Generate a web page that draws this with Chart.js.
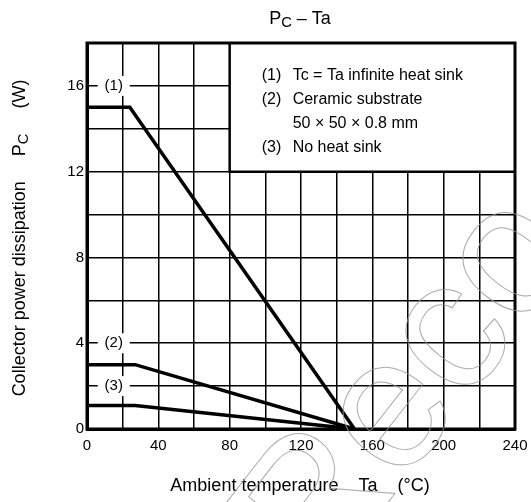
<!DOCTYPE html>
<html>
<head>
<meta charset="utf-8">
<script src="https://cdn.jsdelivr.net/npm/chart.js@4.4.0/dist/chart.umd.min.js"></script>
<style>
  html, body { margin: 0; padding: 0; background: #fff; }
  #wrap { width: 531px; height: 502px; }
</style>
</head>
<body>
<div id="wrap"><canvas id="grafico"></canvas></div>
<script>
// Curvas de disipación (Ta en °C, Pc en W)
const curva1Ta = [0, 24, 150];
const curva1Pc = [15, 15, 0];
const curva2Ta = [0, 27, 150];
const curva2Pc = [3, 3, 0];
const curva3Ta = [0, 27, 150];
const curva3Pc = [1.1, 1.1, 0];

// Etiquetas sobre la grilla y leyenda
const etiquetasCurvas = ['(1)', '(2)', '(3)'];
const etiquetasY = [16, 4, 2];
const leyenda = [
  ['(1)', 'Tc = Ta infinite heat sink'],
  ['(2)', 'Ceramic substrate'],
  ['', '50 × 50 × 0.8 mm'],
  ['(3)', 'No heat sink']
];

const fuente = '"Liberation Sans", Arial, sans-serif';

function puntos(xs, ys) {
  return xs.map((x, i) => ({ x: x, y: ys[i] }));
}

// Texto con subíndice (P + C), centrado en x
function textoSub(ctx, partes, x, y, size) {
  let total = 0;
  partes.forEach(p => {
    ctx.font = (p[1] ? size * 0.82 : size) + 'px ' + fuente;
    total += ctx.measureText(p[0]).width;
  });
  let cx = x - total / 2;
  ctx.textAlign = 'left';
  partes.forEach(p => {
    ctx.font = (p[1] ? size * 0.82 : size) + 'px ' + fuente;
    ctx.fillText(p[0], cx, p[1] ? y + size * 0.22 : y);
    cx += ctx.measureText(p[0]).width;
  });
}

const decoracion = {
  id: 'decoracion',
  beforeDatasetsDraw(chart) {
    const { ctx, scales: { x, y } } = chart;
    ctx.save();
    // caja de la leyenda
    const x0 = x.getPixelForValue(80), x1 = x.getPixelForValue(240);
    const y0 = y.getPixelForValue(18), y1 = y.getPixelForValue(12);
    ctx.fillStyle = '#fff';
    ctx.fillRect(x0, y0, x1 - x0, y1 - y0);
    ctx.strokeStyle = '#000';
    ctx.lineWidth = 2.5;
    ctx.beginPath();
    ctx.moveTo(x0, y0);
    ctx.lineTo(x0, y1);
    ctx.lineTo(x1, y1);
    ctx.stroke();

    ctx.fillStyle = '#000';
    ctx.font = '16px ' + fuente;
    ctx.textBaseline = 'middle';
    ctx.textAlign = 'left';
    leyenda.forEach((l, i) => {
      const ly = y0 + 33 + i * 24;
      ctx.fillText(l[0], x0 + 32, ly);
      ctx.fillText(l[1], x0 + 63, ly);
    });

    // etiquetas (1) (2) (3) sobre las líneas de la grilla
    ctx.font = '15px ' + fuente;
    etiquetasCurvas.forEach((t, i) => {
      const px = x.getPixelForValue(15);
      const py = y.getPixelForValue(etiquetasY[i]);
      ctx.fillStyle = '#fff';
      ctx.fillRect(px - 16, py - 10, 32, 20);
      ctx.fillStyle = '#000';
      ctx.textAlign = 'center';
      ctx.fillText(t, px, py);
    });
    ctx.restore();
  },
  afterDraw(chart) {
    const { ctx, chartArea } = chart;
    ctx.save();
    ctx.strokeStyle = '#000';
    ctx.lineWidth = 3;
    ctx.strokeRect(chartArea.left, chartArea.top, chartArea.right - chartArea.left, chartArea.bottom - chartArea.top);

    ctx.fillStyle = '#000';
    ctx.textBaseline = 'middle';
    // título
    textoSub(ctx, [['P', false], ['C', true], [' – Ta', false]], 300, 19, 18);
    // eje x
    ctx.font = '18px ' + fuente;
    ctx.textAlign = 'center';
    ctx.fillText('Ambient temperature    Ta    (°C)', 300, 486);
    // eje y
    ctx.save();
    ctx.translate(20, 238);
    ctx.rotate(-Math.PI / 2);
    textoSub(ctx, [['Collector power dissipation     P', false], ['C', true], ['     (W)', false]], 0, 0, 18);
    ctx.restore();

    // marca de agua
    ctx.translate(318, 592);
    ctx.rotate(-52 * Math.PI / 180);
    ctx.font = '185px ' + fuente;
    ctx.textAlign = 'left';
    ctx.textBaseline = 'alphabetic';
    ctx.strokeStyle = 'rgba(150,150,150,0.8)';
    ctx.lineWidth = 1;
    ctx.strokeText('Reco', 0, 0);
    ctx.restore();
  }
};

new Chart(document.getElementById('grafico'), {
  type: 'line',
  data: {
    datasets: [
      { data: puntos(curva1Ta, curva1Pc) },
      { data: puntos(curva2Ta, curva2Pc) },
      { data: puntos(curva3Ta, curva3Pc) }
    ].map(d => Object.assign(d, {
      borderColor: '#000',
      borderWidth: 3.5,
      pointRadius: 0,
      fill: false,
      tension: 0,
      clip: false
    }))
  },
  options: {
    responsive: true,
    maintainAspectRatio: false,
    animation: false,
    layout: { padding: { top: 43, right: 16, left: 0, bottom: 0 } },
    plugins: { legend: { display: false }, tooltip: { enabled: false } },
    scales: {
      x: {
        type: 'linear',
        min: 0, max: 240,
        afterFit: s => { s.height = 73; s.paddingLeft = 0; s.paddingRight = 0; },
        ticks: {
          stepSize: 20,
          padding: 8,
          maxRotation: 0,
          autoSkip: false,
          color: '#000',
          font: { family: fuente, size: 15 },
          callback: v => (v % 40 === 0 ? v : '')
        },
        grid: { color: '#000', lineWidth: 1.5, drawTicks: false },
        border: { color: '#000', width: 3 }
      },
      y: {
        min: 0, max: 18,
        afterFit: s => { s.width = 87; },
        ticks: {
          stepSize: 2,
          padding: 3,
          autoSkip: false,
          color: '#000',
          font: { family: fuente, size: 15 },
          callback: v => (v % 4 === 0 && v < 18 ? v : '')
        },
        grid: { color: '#000', lineWidth: 1.5, drawTicks: false },
        border: { color: '#000', width: 3 }
      }
    }
  },
  plugins: [decoracion]
});
</script>
</body>
</html>
